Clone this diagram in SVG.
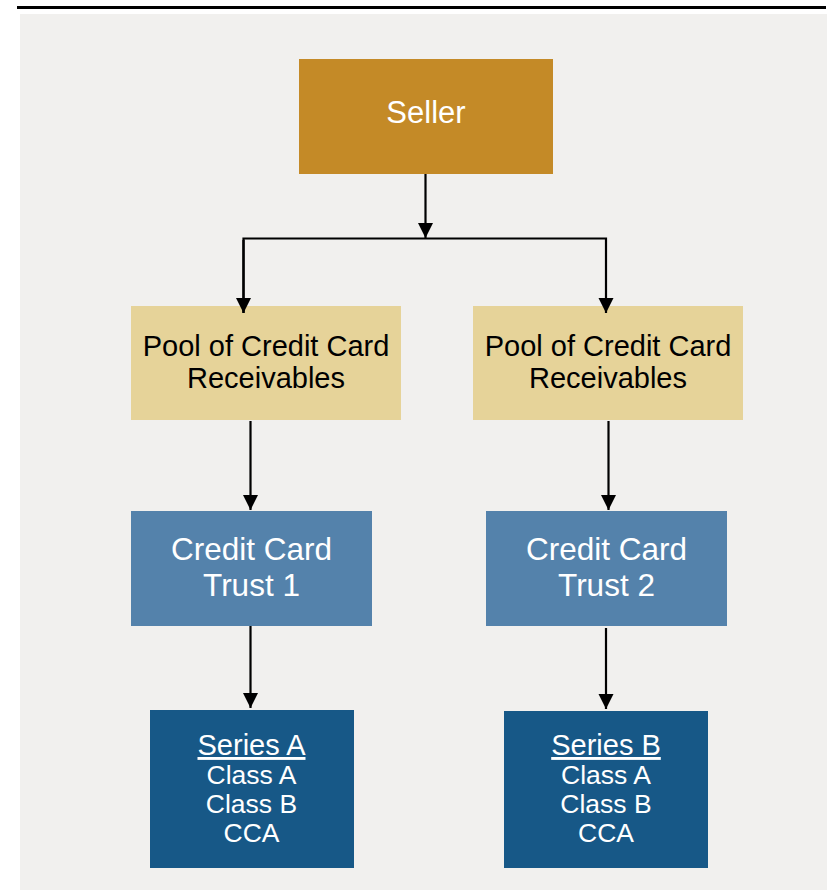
<svg xmlns="http://www.w3.org/2000/svg" width="828" height="890" viewBox="0 0 828 890">
<style>
.t{font-family:"Liberation Sans",Arial,sans-serif;text-anchor:middle}
.w{fill:#ffffff}
.k{fill:#000000}
.ln{stroke:#000;stroke-width:2.2;fill:none}
</style>
<defs>
<marker id="ah" markerUnits="userSpaceOnUse" markerWidth="16" markerHeight="16" viewBox="0 0 16 16" refX="15" refY="8" orient="auto">
<path d="M0,0.5 L15,8 L0,15.5 Z" fill="#000"/>
</marker>
</defs>
<rect x="0" y="0" width="828" height="890" fill="#ffffff"/>
<rect x="20" y="14" width="807" height="876" fill="#F1F0EE"/>
<line x1="17" y1="7.5" x2="826" y2="7.5" stroke="#000" stroke-width="3"/>
<g id="seller">
<rect x="299" y="59" width="254" height="115" fill="#C48A27"/>
<text class="t w" x="426" y="123" font-size="31">Seller</text>
</g>
<g id="pool1">
<rect x="131" y="306" width="270" height="114" fill="#E6D399"/>
<text class="t k" x="266" y="356" font-size="29">Pool of Credit Card</text>
<text class="t k" x="266" y="388" font-size="29">Receivables</text>
</g>
<g id="pool2">
<rect x="473" y="306" width="270" height="114" fill="#E6D399"/>
<text class="t k" x="608" y="356" font-size="29">Pool of Credit Card</text>
<text class="t k" x="608" y="388" font-size="29">Receivables</text>
</g>
<g id="trust1">
<rect x="131" y="511" width="241" height="115" fill="#5482AB"/>
<text class="t w" x="251.5" y="560" font-size="31.5">Credit Card</text>
<text class="t w" x="251.5" y="596" font-size="31.5">Trust 1</text>
</g>
<g id="trust2">
<rect x="486" y="511" width="241" height="115" fill="#5482AB"/>
<text class="t w" x="606.5" y="560" font-size="31.5">Credit Card</text>
<text class="t w" x="606.5" y="596" font-size="31.5">Trust 2</text>
</g>
<g id="seriesA">
<rect x="150" y="710" width="204" height="158" fill="#175887"/>
<text class="t w" x="251.5" y="755" font-size="29" text-decoration="underline">Series A</text>
<text class="t w" x="251.5" y="784" font-size="26.5">Class A</text>
<text class="t w" x="251.5" y="812.5" font-size="26.5">Class B</text>
<text class="t w" x="251.5" y="841.5" font-size="26.5">CCA</text>
</g>
<g id="seriesB">
<rect x="504" y="711" width="204" height="157" fill="#175887"/>
<text class="t w" x="606" y="755" font-size="29" text-decoration="underline">Series B</text>
<text class="t w" x="606" y="784" font-size="26.5">Class A</text>
<text class="t w" x="606" y="812.5" font-size="26.5">Class B</text>
<text class="t w" x="606" y="841.5" font-size="26.5">CCA</text>
</g>
<g id="connectors">
<line class="ln" x1="425.5" y1="174" x2="425.5" y2="238" marker-end="url(#ah)"/>
<polyline class="ln" points="243.5,313 243.5,238.5 606,238.5 606,313" marker-end="url(#ah)"/>
<line class="ln" x1="243.5" y1="240" x2="243.5" y2="313" marker-end="url(#ah)"/>
<line class="ln" x1="250.5" y1="421" x2="250.5" y2="510" marker-end="url(#ah)"/>
<line class="ln" x1="608.5" y1="421" x2="608.5" y2="510" marker-end="url(#ah)"/>
<line class="ln" x1="250.5" y1="626" x2="250.5" y2="708" marker-end="url(#ah)"/>
<line class="ln" x1="606" y1="628" x2="606" y2="709" marker-end="url(#ah)"/>
</g>
</svg>
